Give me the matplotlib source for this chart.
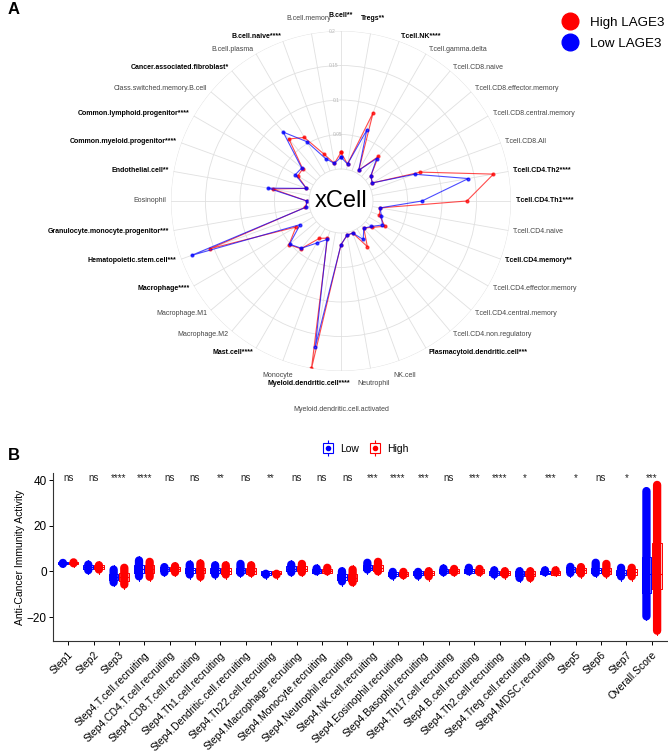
import numpy as np
import matplotlib
matplotlib.use("Agg")
import matplotlib.pyplot as plt
from matplotlib.lines import Line2D
from matplotlib.legend_handler import HandlerTuple

plt.rcParams['font.family'] = ['Liberation Sans', 'DejaVu Sans']

# ---- panel A: xCell radar (clockwise from top) ----
cells = ["B.cell**", "Tregs**", "T.cell.NK****", "T.cell.gamma.delta", "T.cell.CD8.naive",
         "T.cell.CD8.effector.memory", "T.cell.CD8.central.memory", "T.cell.CD8.All",
         "T.cell.CD4.Th2****", "T.cell.CD4.Th1****", "T.cell.CD4.naive", "T.cell.CD4.memory**",
         "T.cell.CD4.effector.memory", "T.cell.CD4.central.memory", "T.cell.CD4.non.regulatory",
         "Plasmacytoid.dendritic.cell***", "NK.cell", "Neutrophil",
         "Myeloid.dendritic.cell.activated", "Myeloid.dendritic.cell****", "Monocyte",
         "Mast.cell****", "Macrophage.M2", "Macrophage.M1", "Macrophage****",
         "Hematopoietic.stem.cell***", "Granulocyte.monocyte.progenitor***", "Eosinophil",
         "Endothelial.cell**", "Common.myeloid.progenitor****", "Common.lymphoid.progenitor****",
         "Class.switched.memory.B.cell", "Cancer.associated.fibroblast*", "B.cell.plasma",
         "B.cell.naive****", "B.cell.memory"]
high_xcell = [0.024, 0.008, 0.090, 0.005, 0.038, 0.010, 0.006, 0.076, 0.178, 0.136,
              0.011, 0.013, 0.027, 0.013, 0.005, 0.030, 0.003, 0.004, 0.017, 0.200,
              0.011, 0.016, 0.044, 0.052, 0.029, 0.156, 0.006, 0.003, 0.054, 0.007,
              0.026, 0.026, 0.071, 0.060, 0.026, 0.009]
low_xcell = [0.017, 0.008, 0.063, 0.005, 0.034, 0.010, 0.006, 0.067, 0.141, 0.071,
             0.011, 0.016, 0.023, 0.011, 0.005, 0.018, 0.003, 0.004, 0.017, 0.168,
             0.013, 0.024, 0.043, 0.051, 0.022, 0.184, 0.005, 0.003, 0.061, 0.007,
             0.030, 0.028, 0.084, 0.053, 0.019, 0.009]
radial_ticks = [0.05, 0.1, 0.15, 0.2]

# ---- panel B: anti-cancer immunity steps ----
steps = ["Step1", "Step2", "Step3", "Step4.T.cell.recruiting", "Step4.CD4.T.cell.recruiting",
         "Step4.CD8.T.cell.recruiting", "Step4.Th1.cell.recruiting",
         "Step4.Dendritic.cell.recruiting", "Step4.Th22.cell.recruiting",
         "Step4.Macrophage.recruiting", "Step4.Monocyte.recruiting",
         "Step4.Neutrophil.recruiting", "Step4.NK.cell.recruiting",
         "Step4.Eosinophil.recruiting", "Step4.Basophil.recruiting",
         "Step4.Th17.cell.recruiting", "Step4.B.cell.recruiting", "Step4.Th2.cell.recruiting",
         "Step4.Treg.cell.recruiting", "Step4.MDSC.recruiting", "Step5", "Step6", "Step7",
         "Overall.Score"]
signif = ["ns", "ns", "****", "****", "ns", "ns", "**", "ns", "**", "ns", "ns", "ns",
          "***", "****", "***", "ns", "***", "****", "*", "***", "*", "ns", "*", "***"]

low_min = [1.9, -1.3, -6.6, -4.0, -2.2, -3.2, -3.2, -2.5, -3.2, -2.2, -1.8, -6.2,
           -1.0, -3.7, -3.7, -2.2, -1.8, -3.2, -4.7, -2.2, -2.5, -2.5, -4.0, -21.5]
low_q1 = [3.2, 1.0, -3.8, -0.8, 0.0, -0.8, -0.8, -0.7, -1.4, 0.2, -0.7, -3.8,
          0.4, -1.9, -1.7, -0.8, -0.8, -1.6, -2.0, -1.3, -0.2, -0.8, -1.8, -9.5]
low_med = [3.8, 1.9, -2.5, 0.9, 0.9, 0.4, 0.4, 0.4, -0.7, 1.2, 0.1, -2.5,
           1.5, -1.0, -0.7, 0.1, 0.1, -0.7, -1.0, -0.6, 0.9, 0.4, -0.6, -1.0]
low_q3 = [4.3, 2.8, -1.0, 2.8, 1.8, 1.6, 1.6, 1.6, 0.0, 2.2, 1.0, -1.2,
          2.7, -0.1, 0.2, 1.0, 1.0, 0.3, 0.0, 0.2, 1.9, 1.7, 0.7, 6.3]
low_max = [5.1, 4.8, 2.6, 6.6, 3.7, 4.8, 4.5, 5.1, 0.7, 4.8, 3.1, 1.9,
           5.6, 1.6, 1.6, 3.1, 3.4, 2.3, 1.9, 2.3, 3.8, 5.6, 3.4, 37.0]

high_min = [1.9, -1.0, -7.6, -4.2, -2.2, -4.2, -3.2, -2.5, -3.2, -2.2, -1.8, -6.6,
            -1.8, -3.5, -4.0, -2.2, -2.2, -3.2, -4.7, -2.2, -2.8, -2.8, -4.0, -27.8]
high_q1 = [3.1, 1.0, -4.0, -0.6, 0.0, -0.9, -1.0, -1.0, -1.3, 0.2, -0.8, -4.2,
           0.2, -1.9, -1.8, -0.8, -0.9, -1.6, -2.0, -1.4, -0.6, -1.0, -1.5, -7.6]
high_med = [3.7, 1.9, -2.5, 1.2, 0.9, 0.4, 0.1, 0.0, -0.6, 1.2, 0.0, -2.8,
            1.5, -1.0, -0.7, 0.1, 0.1, -0.7, -1.0, -0.7, 0.4, 0.1, -0.3, -1.0]
high_q3 = [4.3, 2.8, -0.8, 3.0, 1.9, 1.7, 1.4, 1.3, 0.1, 2.3, 1.0, -1.0,
           2.8, -0.1, 0.3, 1.0, 1.0, 0.2, 0.0, 0.1, 1.5, 1.5, 0.9, 12.5]
high_max = [5.6, 4.5, 3.4, 6.0, 4.1, 5.3, 4.5, 4.5, 0.7, 5.1, 3.4, 2.6,
            6.0, 1.6, 1.9, 2.9, 2.9, 1.9, 1.9, 2.3, 3.7, 5.1, 3.4, 39.7]

RED = "#FF0000"
BLUE = "#0000FF"
W, H = 668, 753

fig = plt.figure(figsize=(W / 100, H / 100), dpi=100)

# ---------------- radar ----------------
cx, cy, R = 341, 201, 170          # centre and outer radius in pixels
hole = 32                          # inner hole radius in pixels
axr = fig.add_axes([(cx - R) / W, (H - cy - R) / H, 2 * R / W, 2 * R / H], projection='polar')
axr.set_theta_zero_location('N')
axr.set_theta_direction(-1)
axr.set_ylim(0, 0.2)
axr.set_rorigin(-0.2 * hole / (R - hole))

theta = np.deg2rad(np.arange(len(cells)) * 360 / len(cells))
th_c = np.append(theta, theta[0])
axr.plot(th_c, np.append(high_xcell, high_xcell[0]), color=RED, lw=0.8, alpha=0.7,
         marker='o', ms=2)
axr.plot(th_c, np.append(low_xcell, low_xcell[0]), color=BLUE, lw=0.8, alpha=0.7,
         marker='o', ms=2)

axr.set_xticks(theta)
axr.set_xticklabels([])
axr.set_yticks(radial_ticks)
axr.set_yticklabels([])
axr.grid(color='#e0e0e0', lw=0.6)
axr.spines['polar'].set_visible(False)
axr.spines['inner'].set_color('#e0e0e0')
axr.spines['inner'].set_linewidth(0.6)
for v in radial_ticks:
    axr.text(np.deg2rad(-3), v, f"{v:g}", fontsize=3.5, color='#b5b5b5',
             ha='center', va='center')

axr.text(0.5, 0.5, "xCell", transform=axr.transAxes, ha='center', va='center', fontsize=17)

for th, name in zip(theta, cells):
    s, c = np.sin(th), np.cos(th)
    lim = 0.3 if c > 0 else 0.4
    if s > lim:
        ha = 'left'
    elif s < -lim:
        ha = 'right'
    else:
        ha = 'center'
    r_lab = 0.207 if ha != 'center' else 0.222
    if c < -0.99:
        r_lab = 0.256
    bold = '*' in name
    axr.text(th, r_lab, name, ha=ha, va='center', fontsize=5,
             fontweight='bold' if bold else 'normal',
             color='black' if bold else '#444444', clip_on=False)

fig.legend(handles=[Line2D([0], [0], marker='o', ls='', mfc=RED, mec=RED, ms=12),
                    Line2D([0], [0], marker='o', ls='', mfc=BLUE, mec=BLUE, ms=12)],
           labels=["High LAGE3", "Low LAGE3"], loc='upper left',
           bbox_to_anchor=(551 / W, 1 - 11 / H), frameon=False, fontsize=9.6,
           labelspacing=0.65, handletextpad=0.55, borderaxespad=0)

# ---------------- box / jitter ----------------
ax = fig.add_axes([53 / W, (H - 641) / H, (667 - 53) / W, (641 - 473) / H])
ax.set_xlim(-0.6, 23.6)
ax.set_ylim(-30.5, 43.1)
x = np.arange(len(steps))
off = 0.21
dot_lw = 6.0
px_per_unit = (641 - 473) / (43.1 + 30.5)
shrink = dot_lw * 100 / 72 / 2 / px_per_unit

groups = [(-off, BLUE, low_min, low_q1, low_med, low_q3, low_max),
          (off, RED, high_min, high_q1, high_med, high_q3, high_max)]
for dx, col, mn, q1, md, q3, mx in groups:
    mn, mx = np.array(mn), np.array(mx)
    mid = (mn + mx) / 2
    # the dense jittered dots read as one rounded blob from min to max
    lo = np.minimum(mn + shrink, mid - 0.2)
    hi = np.maximum(mx - shrink, mid + 0.2)
    lc = ax.vlines(x + dx, lo, hi, color=col, lw=dot_lw, zorder=2)
    lc.set_capstyle('round')
    lc.set_snap(False)
    stats = [dict(whislo=a, q1=b, med=c, q3=d, whishi=e)
             for a, b, c, d, e in zip(mn, q1, md, q3, mx)]
    ax.bxp(stats, positions=x + dx, widths=0.38, showfliers=False, showcaps=False,
           boxprops=dict(color=col, lw=0.7), medianprops=dict(color=col, lw=0.8),
           whiskerprops=dict(color=col, lw=0.7), manage_ticks=False, zorder=3)

for xi, lab in zip(x, signif):
    ax.text(xi, 39.6, lab, ha='center', va='baseline', fontsize=7, color='#222222')

ax.set_xticks(x)
ax.set_xticklabels(steps, rotation=45, ha='right', rotation_mode='anchor', fontsize=7.5)
ax.set_yticks([-20, 0, 20, 40])
ax.tick_params(axis='y', labelsize=8.5, length=3, width=0.7, pad=1.5)
ax.tick_params(axis='x', length=3, width=0.7)
for sp in ['top', 'right']:
    ax.spines[sp].set_visible(False)
for sp in ['left', 'bottom']:
    ax.spines[sp].set_linewidth(0.8)
    ax.spines[sp].set_color('#333333')
ax.set_ylabel("Anti-Cancer Immunity Activity", fontsize=7.5, labelpad=1)

def box_key(col):
    return (Line2D([0], [0], marker='|', ls='', color=col, ms=11, mew=0.8),
            Line2D([0], [0], marker='s', ls='', mfc='white', mec=col, ms=7, mew=0.8),
            Line2D([0], [0], marker='o', ls='', color=col, ms=3))

fig.legend(handles=[box_key(BLUE), box_key(RED)], labels=["Low", "High"], loc='center',
           bbox_to_anchor=(365 / W, 1 - 449 / H), ncol=2, frameon=False, fontsize=7.5,
           handler_map={tuple: HandlerTuple(ndivide=1)}, handlelength=1.2,
           handletextpad=0.5, columnspacing=1.0)

fig.text(8 / W, 1 - 9 / H, "A", fontweight='bold', fontsize=12, va='center')
fig.text(8 / W, 1 - 456 / H, "B", fontweight='bold', fontsize=12, va='center')

fig.savefig("out.png", dpi=100, facecolor='white')
